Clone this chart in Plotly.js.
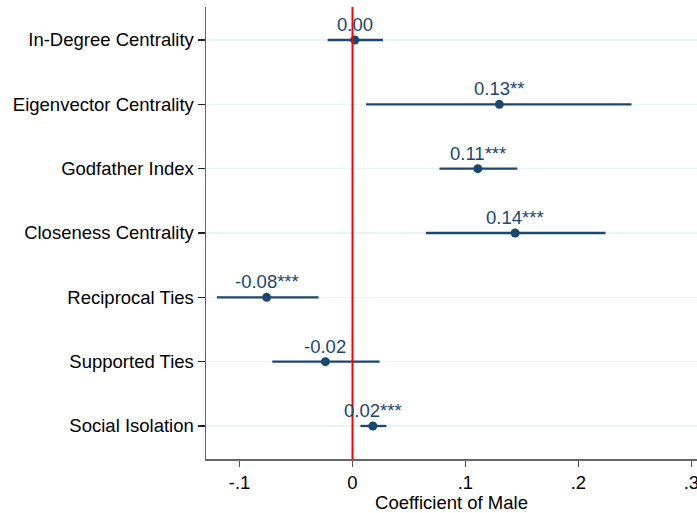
<!DOCTYPE html>
<html>
<head>
<meta charset="utf-8">
<script src="https://cdn.plot.ly/plotly-3.0.1.min.js"></script>
<style>
  html, body { margin: 0; padding: 0; background: #fff; }
  #chart { width: 697px; height: 513px; }
</style>
</head>
<body>
<div id="chart"></div>
<script>
// Outcome measures, top to bottom
const outcomes = ['In-Degree Centrality', 'Eigenvector Centrality', 'Godfather Index',
                  'Closeness Centrality', 'Reciprocal Ties', 'Supported Ties', 'Social Isolation'];
// Point estimates of the Male coefficient
const coef   = [0.002, 0.130, 0.111, 0.144, -0.076, -0.024, 0.018];
// 95% confidence bounds
const ciLow  = [-0.022, 0.012, 0.077, 0.065, -0.120, -0.071, 0.007];
const ciHigh = [0.027, 0.247, 0.146, 0.224, -0.030, 0.024, 0.030];
// Significance stars
const stars  = ['', '**', '***', '***', '***', '', '***'];
// x-axis ticks
const xTickVals = [-0.1, 0, 0.1, 0.2, 0.3];
const xTickText = ['-.1', '0', '.1', '.2', '.3'];

const navy = '#1a476f';
const font = 'Liberation Sans, Arial, sans-serif';
const fs = 18.5;

const labelText = coef.map((c, i) => c.toFixed(2) + stars[i]);

const trace = {
  type: 'scatter',
  mode: 'markers',
  x: coef,
  y: outcomes,
  marker: { color: navy, size: 9 },
  error_x: {
    type: 'data',
    symmetric: false,
    array: coef.map((c, i) => ciHigh[i] - c),
    arrayminus: coef.map((c, i) => c - ciLow[i]),
    color: navy,
    thickness: 2.3,
    width: 0
  },
  cliponaxis: false,
  hoverinfo: 'skip'
};

// Coefficient labels placed just above each marker
const annotations = coef.map((c, i) => ({
  x: c,
  y: outcomes[i],
  xref: 'x',
  yref: 'y',
  text: labelText[i],
  showarrow: false,
  xanchor: 'center',
  yanchor: 'bottom',
  yshift: 3,
  font: { family: font, size: fs, color: navy }
}));

const layout = {
  width: 697,
  height: 513,
  margin: { l: 206, r: 0, t: 7, b: 54 },
  paper_bgcolor: '#ffffff',
  plot_bgcolor: '#ffffff',
  showlegend: false,
  font: { family: font, size: fs, color: '#000' },
  xaxis: {
    range: [-0.1297, 0.305],
    tickvals: xTickVals,
    ticktext: xTickText,
    ticklabeloverflow: 'allow',
    ticks: 'outside',
    ticklen: 6,
    tickwidth: 1.5,
    tickcolor: '#555',
    showgrid: false,
    zeroline: false,
    showline: true,
    linecolor: '#666',
    linewidth: 1.5,
    tickfont: { family: font, size: fs, color: '#000' },
    title: { text: 'Coefficient of Male', font: { family: font, size: fs, color: '#000' }, standoff: 1 }
  },
  yaxis: {
    type: 'category',
    categoryorder: 'array',
    categoryarray: outcomes,
    range: [6.513, -0.513],
    ticks: 'outside',
    ticklen: 7,
    tickwidth: 1.5,
    tickcolor: '#222',
    showgrid: true,
    gridcolor: '#eaf2f3',
    gridwidth: 1.6,
    zeroline: false,
    showline: true,
    linecolor: '#666',
    linewidth: 1.5,
    tickfont: { family: font, size: fs, color: '#000' }
  },
  annotations: annotations,
  shapes: [{
    type: 'line',
    xref: 'x', yref: 'paper',
    x0: 0, x1: 0, y0: 0, y1: 1,
    line: { color: '#ff0000', width: 2 },
    layer: 'above'
  }]
};

Plotly.newPlot('chart', [trace], layout, { displayModeBar: false, staticPlot: true });
</script>
</body>
</html>
